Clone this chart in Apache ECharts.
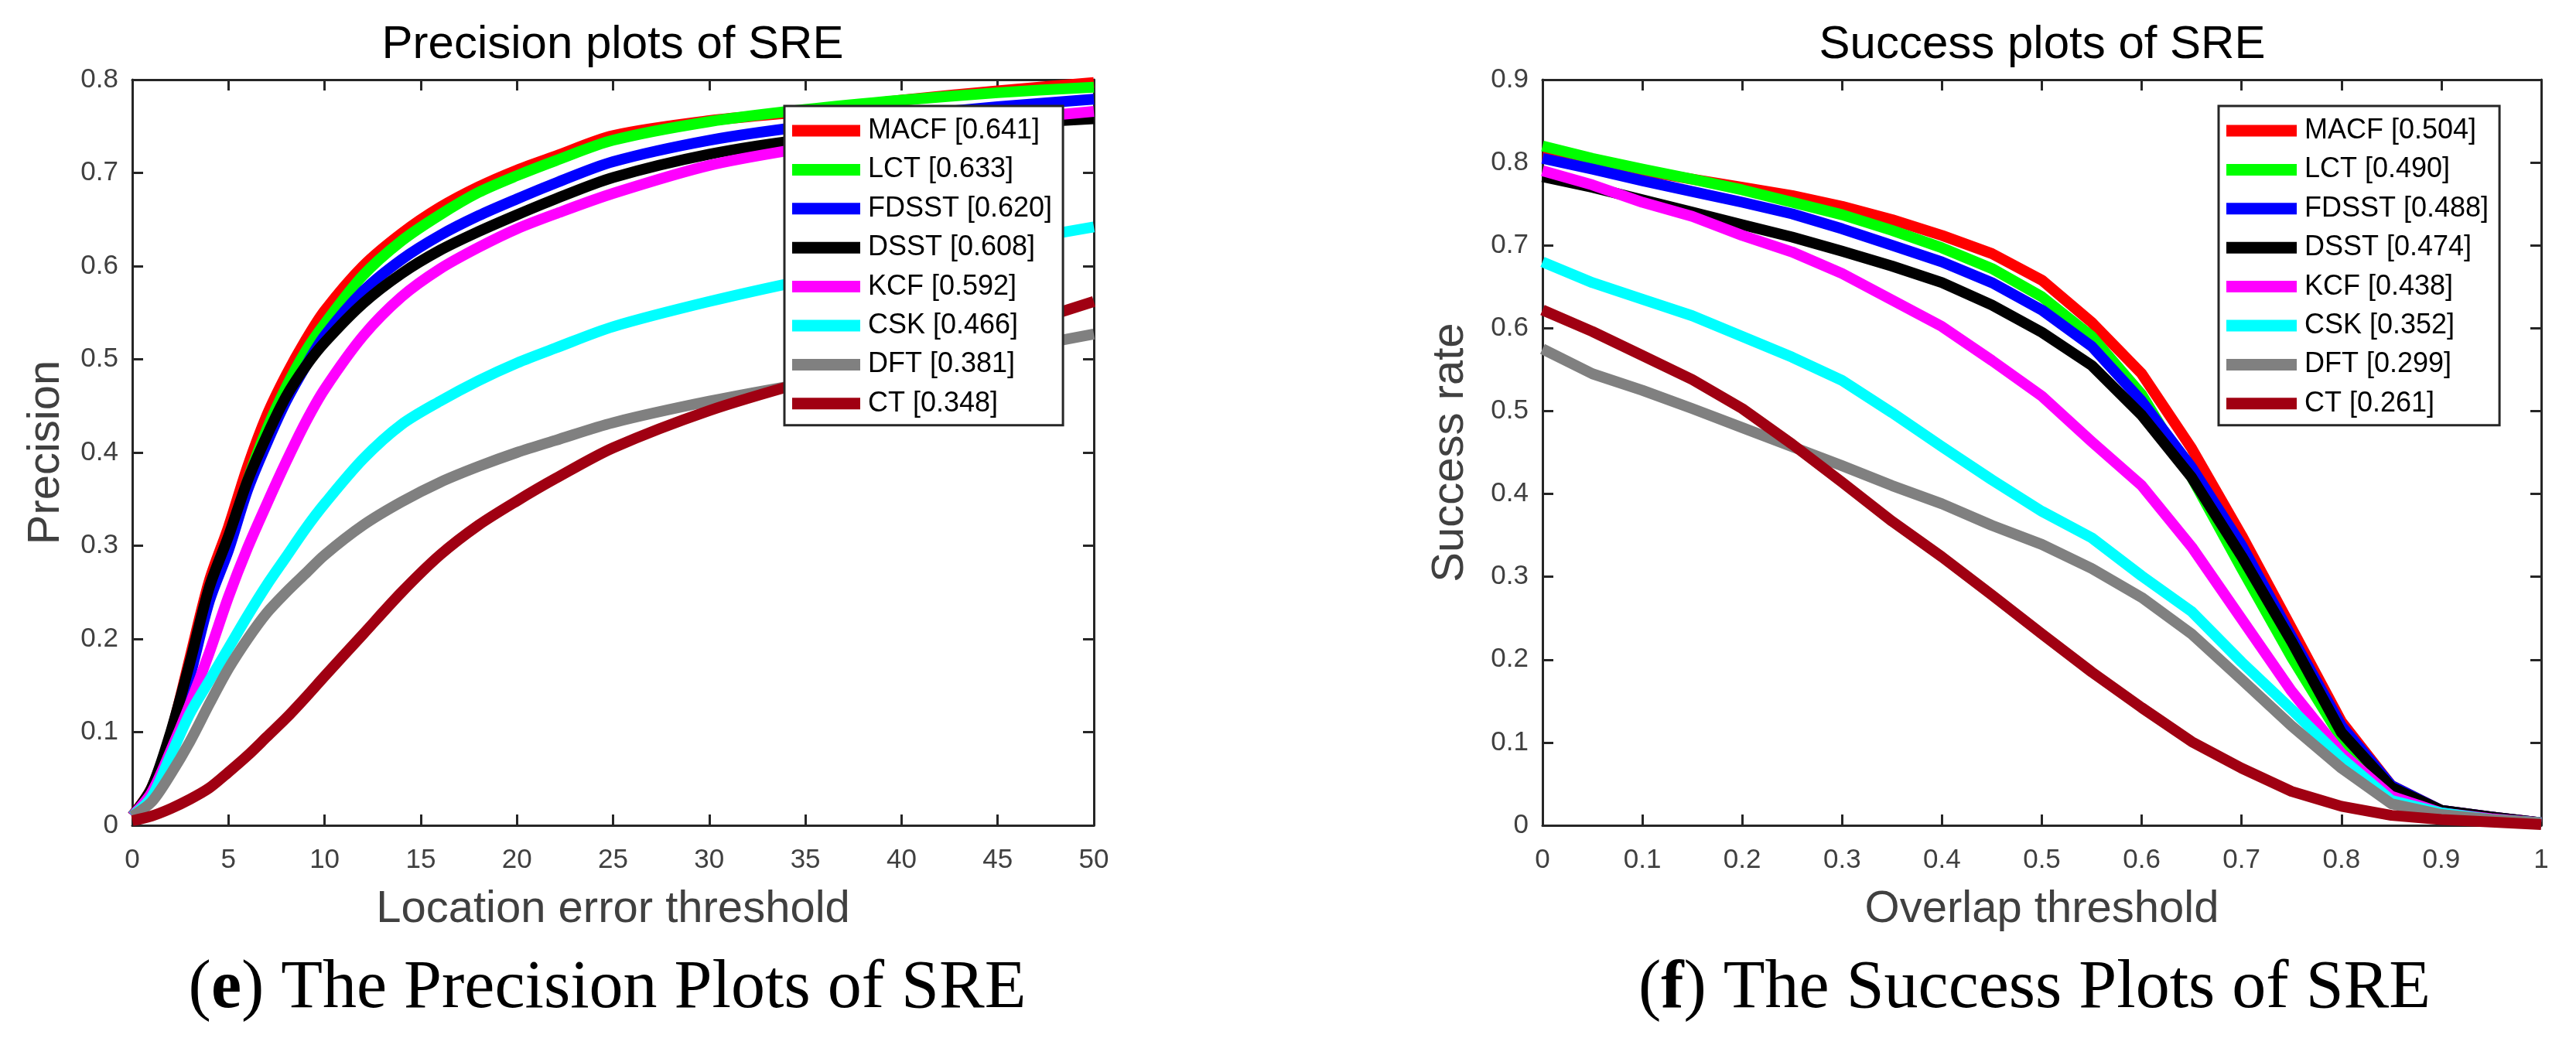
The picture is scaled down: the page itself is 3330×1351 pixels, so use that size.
<!DOCTYPE html>
<html>
<head>
<meta charset="utf-8">
<script src="https://cdn.jsdelivr.net/npm/echarts@6/dist/echarts.min.js"></script>
<style>
  html, body { margin: 0; padding: 0; background: #fff; }
  #chart { width: 3330px; height: 1351px; }
</style>
</head>
<body>
<div id="chart"></div>
<script>
// ---------------- DATA ----------------
const trackers = ['MACF', 'LCT', 'FDSST', 'DSST', 'KCF', 'CSK', 'DFT', 'CT'];
const precisionScores = ['0.641', '0.633', '0.620', '0.608', '0.592', '0.466', '0.381', '0.348'];
const successScores = ['0.504', '0.490', '0.488', '0.474', '0.438', '0.352', '0.299', '0.261'];

const precisionTicksX = [0, 5, 10, 15, 20, 25, 30, 35, 40, 45, 50];
const precisionTicksY = [0, 0.1, 0.2, 0.3, 0.4, 0.5, 0.6, 0.7, 0.8];
const successTicksX = [0, 0.1, 0.2, 0.3, 0.4, 0.5, 0.6, 0.7, 0.8, 0.9, 1];
const successTicksY = [0, 0.1, 0.2, 0.3, 0.4, 0.5, 0.6, 0.7, 0.8, 0.9];

// Location error thresholds (pixels)
const locationThresholds = [0, 1, 2, 3, 4, 5, 6, 7, 8, 9, 10, 12, 14, 16, 18, 20, 22, 25, 30, 35, 40, 45, 50];
const precisionMACF  = [0.010, 0.040, 0.098, 0.180, 0.262, 0.320, 0.385, 0.440, 0.483, 0.520, 0.552, 0.600, 0.635, 0.663, 0.685, 0.703, 0.718, 0.740, 0.756, 0.766, 0.778, 0.788, 0.797];
const precisionLCT   = [0.010, 0.035, 0.090, 0.165, 0.245, 0.300, 0.370, 0.425, 0.470, 0.508, 0.538, 0.590, 0.627, 0.655, 0.679, 0.697, 0.713, 0.735, 0.755, 0.768, 0.778, 0.786, 0.792];
const precisionFDSST = [0.010, 0.035, 0.090, 0.160, 0.240, 0.295, 0.360, 0.410, 0.455, 0.492, 0.525, 0.573, 0.607, 0.633, 0.654, 0.672, 0.689, 0.712, 0.735, 0.750, 0.761, 0.771, 0.779];
const precisionDSST  = [0.010, 0.040, 0.100, 0.175, 0.255, 0.310, 0.370, 0.418, 0.460, 0.492, 0.518, 0.560, 0.592, 0.617, 0.637, 0.655, 0.672, 0.695, 0.720, 0.736, 0.745, 0.752, 0.758];
const precisionKCF   = [0.010, 0.035, 0.080, 0.130, 0.185, 0.245, 0.298, 0.345, 0.390, 0.432, 0.468, 0.525, 0.567, 0.597, 0.620, 0.640, 0.656, 0.678, 0.708, 0.727, 0.743, 0.756, 0.766];
const precisionCSK   = [0.010, 0.030, 0.075, 0.120, 0.155, 0.190, 0.225, 0.258, 0.288, 0.318, 0.345, 0.393, 0.430, 0.455, 0.477, 0.496, 0.512, 0.535, 0.562, 0.585, 0.605, 0.624, 0.642];
const precisionDFT   = [0.010, 0.025, 0.055, 0.090, 0.130, 0.168, 0.200, 0.228, 0.250, 0.270, 0.290, 0.322, 0.347, 0.368, 0.385, 0.400, 0.413, 0.432, 0.455, 0.474, 0.490, 0.508, 0.527];
const precisionCT    = [0.005, 0.010, 0.018, 0.028, 0.040, 0.057, 0.075, 0.095, 0.115, 0.137, 0.160, 0.205, 0.250, 0.290, 0.322, 0.348, 0.372, 0.405, 0.445, 0.476, 0.503, 0.530, 0.562];

// Overlap thresholds
const overlapThresholds = [0, 0.05, 0.1, 0.15, 0.2, 0.25, 0.3, 0.35, 0.4, 0.45, 0.5, 0.55, 0.6, 0.65, 0.7, 0.75, 0.8, 0.85, 0.9, 0.95, 1];
const successMACF  = [0.808, 0.800, 0.790, 0.780, 0.770, 0.760, 0.747, 0.731, 0.712, 0.690, 0.658, 0.607, 0.545, 0.455, 0.350, 0.238, 0.125, 0.048, 0.018, 0.010, 0.003];
const successLCT   = [0.820, 0.805, 0.792, 0.780, 0.767, 0.752, 0.737, 0.718, 0.697, 0.672, 0.638, 0.590, 0.520, 0.420, 0.310, 0.203, 0.105, 0.040, 0.015, 0.008, 0.003];
const successFDSST = [0.805, 0.792, 0.778, 0.765, 0.752, 0.738, 0.720, 0.700, 0.680, 0.655, 0.622, 0.578, 0.512, 0.432, 0.338, 0.228, 0.120, 0.048, 0.018, 0.010, 0.003];
const successDSST  = [0.783, 0.770, 0.755, 0.740, 0.725, 0.710, 0.693, 0.675, 0.655, 0.628, 0.595, 0.555, 0.495, 0.420, 0.325, 0.222, 0.112, 0.046, 0.018, 0.010, 0.003];
const successKCF   = [0.790, 0.773, 0.752, 0.735, 0.712, 0.692, 0.666, 0.634, 0.602, 0.561, 0.518, 0.463, 0.410, 0.336, 0.249, 0.162, 0.087, 0.035, 0.015, 0.008, 0.003];
const successCSK   = [0.680, 0.655, 0.635, 0.615, 0.590, 0.565, 0.537, 0.498, 0.457, 0.417, 0.379, 0.347, 0.301, 0.258, 0.197, 0.140, 0.081, 0.030, 0.015, 0.007, 0.003];
const successDFT   = [0.575, 0.545, 0.525, 0.503, 0.480, 0.457, 0.434, 0.410, 0.388, 0.362, 0.339, 0.310, 0.275, 0.231, 0.176, 0.120, 0.069, 0.026, 0.013, 0.007, 0.003];
const successCT    = [0.622, 0.596, 0.567, 0.538, 0.503, 0.460, 0.414, 0.367, 0.324, 0.278, 0.231, 0.185, 0.142, 0.101, 0.069, 0.041, 0.023, 0.012, 0.007, 0.004, 0.001];

const precisionSeriesData = [precisionMACF, precisionLCT, precisionFDSST, precisionDSST, precisionKCF, precisionCSK, precisionDFT, precisionCT];
const successSeriesData = [successMACF, successLCT, successFDSST, successDSST, successKCF, successCSK, successDFT, successCT];

// ---------------- STYLE ----------------
const colors = ['#ff0000', '#00ff00', '#0000ff', '#000000', '#ff00ff', '#00ffff', '#808080', '#a00012'];
const axisColor = '#262626';
const labelColor = '#404040';
const sans = '"Liberation Sans", Arial, sans-serif';
const serif = '"Liberation Serif", "Times New Roman", serif';

const chart = echarts.init(document.getElementById('chart'), null, { renderer: 'canvas' });

function fmt(v) { return String(Math.round(v * 10) / 10); }

function mainX(grid, ticks, name) {
  return {
    type: 'value', gridIndex: grid, position: 'bottom',
    min: ticks[0], max: ticks[ticks.length - 1], interval: ticks[1] - ticks[0],
    name: name, nameLocation: 'middle', nameGap: 80,
    nameTextStyle: { fontFamily: sans, fontSize: 58, color: labelColor },
    axisLine: { show: true, onZero: false, lineStyle: { color: axisColor, width: 3 } },
    axisTick: { show: true, inside: true, length: 14, lineStyle: { color: axisColor, width: 3 } },
    axisLabel: { show: true, margin: 28, fontFamily: sans, fontSize: 35, color: labelColor, formatter: fmt },
    splitLine: { show: false }
  };
}
function mirrorX(grid, ticks) {
  return {
    type: 'value', gridIndex: grid, position: 'top',
    min: ticks[0], max: ticks[ticks.length - 1], interval: ticks[1] - ticks[0],
    axisLine: { show: true, onZero: false, lineStyle: { color: axisColor, width: 3 } },
    axisTick: { show: true, inside: true, length: 14, lineStyle: { color: axisColor, width: 3 } },
    axisLabel: { show: false }, splitLine: { show: false }
  };
}
function mainY(grid, ticks, name, gap) {
  return {
    type: 'value', gridIndex: grid, position: 'left',
    min: ticks[0], max: ticks[ticks.length - 1], interval: ticks[1] - ticks[0],
    name: name, nameLocation: 'middle', nameGap: gap,
    nameTextStyle: { fontFamily: sans, fontSize: 58, color: labelColor },
    axisLine: { show: true, onZero: false, lineStyle: { color: axisColor, width: 3 } },
    axisTick: { show: true, inside: true, length: 14, lineStyle: { color: axisColor, width: 3 } },
    axisLabel: { show: true, margin: 18, fontFamily: sans, fontSize: 35, color: labelColor, formatter: fmt },
    splitLine: { show: false }
  };
}
function mirrorY(grid, ticks) {
  return {
    type: 'value', gridIndex: grid, position: 'right',
    min: ticks[0], max: ticks[ticks.length - 1], interval: ticks[1] - ticks[0],
    axisLine: { show: true, onZero: false, lineStyle: { color: axisColor, width: 3 } },
    axisTick: { show: true, inside: true, length: 14, lineStyle: { color: axisColor, width: 3 } },
    axisLabel: { show: false }, splitLine: { show: false }
  };
}

const series = [];
trackers.forEach((t, i) => {
  series.push({
    name: t + ' [' + precisionScores[i] + ']',
    type: 'line', xAxisIndex: 0, yAxisIndex: 0,
    data: locationThresholds.map((x, k) => [x, precisionSeriesData[i][k]]),
    showSymbol: false, symbol: 'none', clip: true,
    smooth: 0.3,
    lineStyle: { color: colors[i], width: 14, join: 'round' },
    itemStyle: { color: colors[i] },
    emphasis: { disabled: true }
  });
});
trackers.forEach((t, i) => {
  series.push({
    name: t + ' [' + successScores[i] + ']',
    type: 'line', xAxisIndex: 2, yAxisIndex: 2,
    data: overlapThresholds.map((x, k) => [x, successSeriesData[i][k]]),
    showSymbol: false, symbol: 'none', clip: true,
    lineStyle: { color: colors[i], width: 14, join: 'round' },
    itemStyle: { color: colors[i] },
    emphasis: { disabled: true }
  });
});

function legend(left, names, iw) {
  return {
    orient: 'vertical', left: left, top: 137,
    data: names, icon: 'rect', itemWidth: iw, itemHeight: 15, itemGap: 10.4,
    padding: [12, 14, 8, 10],
    backgroundColor: '#ffffff', borderColor: axisColor, borderWidth: 3,
    textStyle: { fontFamily: sans, fontSize: 36, color: '#000', lineHeight: 40, padding: [0, 0, 0, 5] },
    selectedMode: false
  };
}

const option = {
  animation: false,
  backgroundColor: '#ffffff',
  grid: [
    { left: 171, top: 103, width: 1243, height: 964, containLabel: false },
    { left: 1994, top: 103, width: 1291, height: 964, containLabel: false }
  ],
  xAxis: [
    mainX(0, precisionTicksX, 'Location error threshold'),
    mirrorX(0, precisionTicksX),
    mainX(1, successTicksX, 'Overlap threshold'),
    mirrorX(1, successTicksX)
  ],
  yAxis: [
    mainY(0, precisionTicksY, 'Precision', 82),
    mirrorY(0, precisionTicksY),
    mainY(1, successTicksY, 'Success rate', 90),
    mirrorY(1, successTicksY)
  ],
  legend: [
    legend(1014, trackers.map((t, i) => t + ' [' + precisionScores[i] + ']'), 88),
    legend(2868, trackers.map((t, i) => t + ' [' + successScores[i] + ']'), 91)
  ],
  graphic: [
    { type: 'text', x: 792, y: 58, silent: true,
      style: { text: 'Precision plots of SRE', x: 0, y: 0, textAlign: 'center', textVerticalAlign: 'middle',
               font: 'normal 60px ' + sans, fill: '#000' } },
    { type: 'text', x: 2640, y: 58, silent: true,
      style: { text: 'Success plots of SRE', x: 0, y: 0, textAlign: 'center', textVerticalAlign: 'middle',
               font: 'normal 60px ' + sans, fill: '#000' } },
    { type: 'text', x: 785, y: 1279, silent: true,
      style: { text: '({b|e}) The Precision Plots of SRE', x: 0, y: 0, textAlign: 'center', textVerticalAlign: 'middle',
               font: 'normal 88px ' + serif, fill: '#000',
               rich: { b: { font: 'bold 88px ' + serif, fill: '#000' } } } },
    { type: 'text', x: 2630, y: 1279, silent: true,
      style: { text: '({b|f}) The Success Plots of SRE', x: 0, y: 0, textAlign: 'center', textVerticalAlign: 'middle',
               font: 'normal 88px ' + serif, fill: '#000',
               rich: { b: { font: 'bold 88px ' + serif, fill: '#000' } } } }
  ],
  series: series
};
chart.setOption(option);
</script>
</body>
</html>
